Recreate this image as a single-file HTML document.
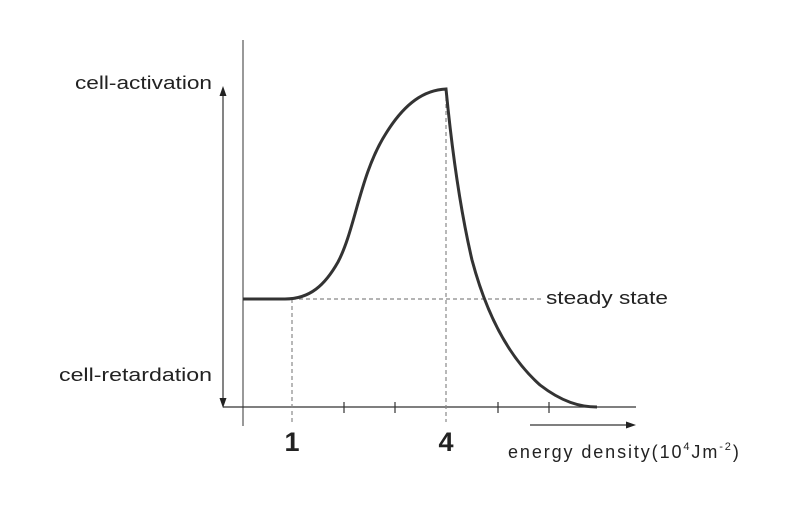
<!DOCTYPE html>
<html><head><style>body{margin:0;background:#fff}</style></head><body>
<svg width="800" height="500" xmlns="http://www.w3.org/2000/svg" font-family="Liberation Sans, sans-serif" fill="#222">
<line x1="243" y1="40" x2="243" y2="426" stroke="#999" stroke-width="2"/>
<line x1="223" y1="407" x2="636" y2="407" stroke="#333" stroke-width="1.3"/>
<line x1="223" y1="92" x2="223" y2="402" stroke="#333" stroke-width="1.2"/>
<polygon points="223,86 219.5,96 226.5,96" fill="#222"/>
<polygon points="223,408 219.5,398 226.5,398" fill="#222"/>
<g stroke="#333" stroke-width="1.2">
<line x1="344" y1="402" x2="344" y2="413"/><line x1="395" y1="402" x2="395" y2="413"/>
<line x1="498" y1="402" x2="498" y2="413"/><line x1="549" y1="402" x2="549" y2="413"/>
</g>
<g stroke="#888" stroke-width="1.2" stroke-dasharray="4,3" fill="none">
<line x1="243" y1="299" x2="543" y2="299"/>
<line x1="292" y1="299" x2="292" y2="422"/>
<line x1="446" y1="90" x2="446" y2="422"/>
</g>
<line x1="530" y1="425" x2="630" y2="425" stroke="#333" stroke-width="1.2"/>
<polygon points="636,425 626,421.5 626,428.5" fill="#222"/>
<path d="M243,299 L285,299 C310,299 325,285 338,262 C355,230 360,175 385,135 C405,102 425,90 446,89 C450,130 458,200 472,260 C488,320 512,360 540,385 C562,402 580,407 597,407" fill="none" stroke="#333" stroke-width="3"/>
<g font-size="18">
<text x="75" y="89" textLength="137" lengthAdjust="spacingAndGlyphs">cell-activation</text>
<text x="59" y="381" textLength="153" lengthAdjust="spacingAndGlyphs">cell-retardation</text>
<text x="546" y="304" textLength="122" lengthAdjust="spacingAndGlyphs">steady state</text>
<text x="508" y="458" letter-spacing="1.9">energy density(10<tspan font-size="11" dy="-8">4</tspan><tspan dy="8">Jm</tspan><tspan font-size="11" dy="-8">-2</tspan><tspan dy="8">)</tspan></text>
</g>
<g font-size="27" font-weight="bold" text-anchor="middle">
<text x="292" y="451">1</text><text x="446" y="451">4</text>
</g>
</svg>
</body></html>
